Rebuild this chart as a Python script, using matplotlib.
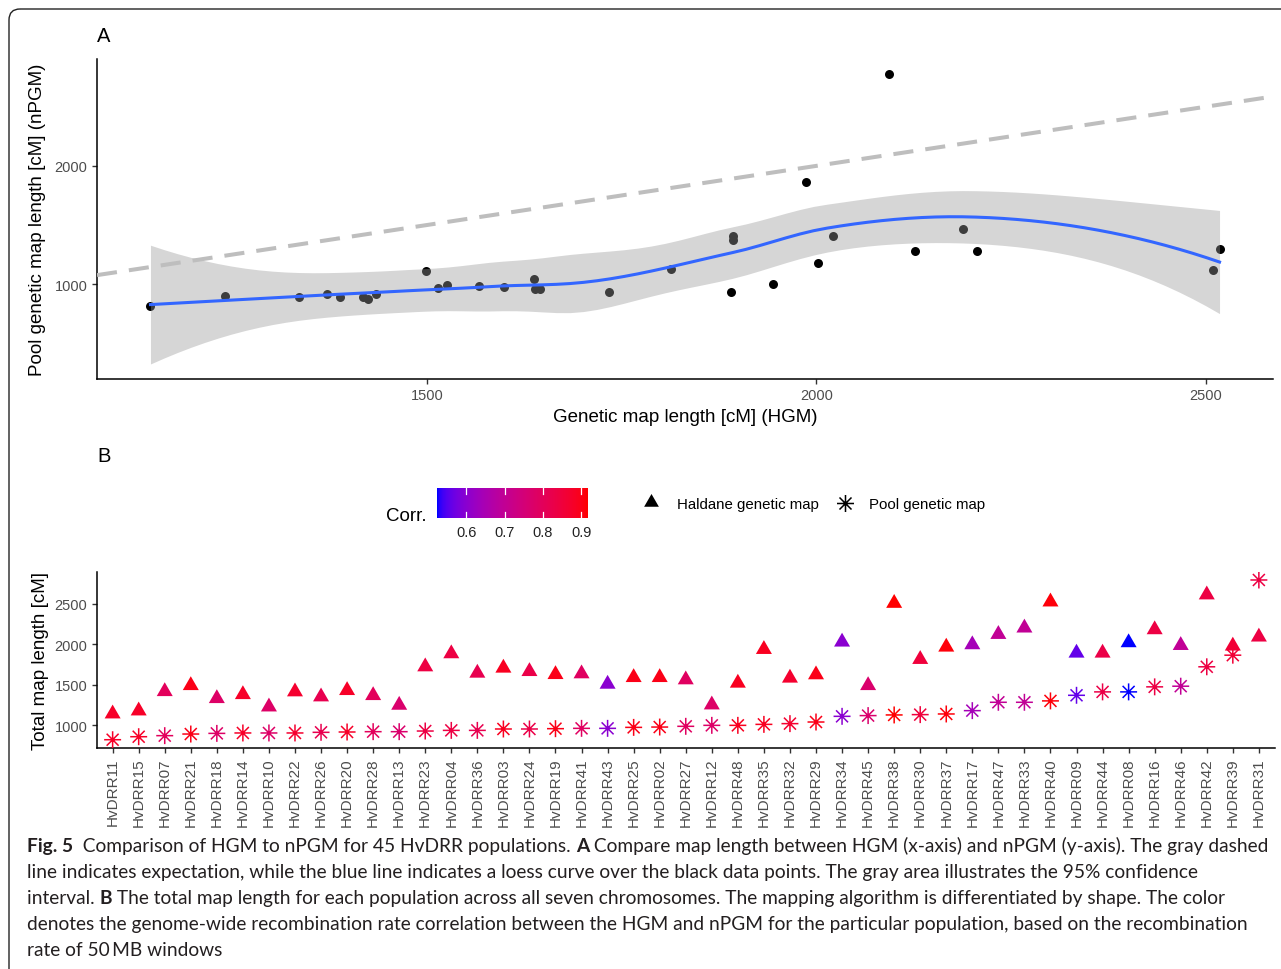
import numpy as np
import matplotlib
matplotlib.use("Agg")
import matplotlib.pyplot as plt
from matplotlib.path import Path
from matplotlib.patches import FancyBboxPatch
from matplotlib.colors import ListedColormap, Normalize

W, H, DPI = 1281, 970, 100

# --- panel A: HGM vs nPGM map length per population (cM) ---
hgm_a = [1145, 1241, 1336, 1372, 1388, 1418, 1424, 1435, 1499, 1514, 1526,
         1567, 1599, 1638, 1639, 1645, 1734, 1814, 1891, 1893, 1893, 1945,
         1987, 2002, 2022, 2093, 2127, 2188, 2206, 2509, 2518]
npgm_a = [818, 897, 888, 913, 891, 894, 874, 913, 1109, 970, 997,
          986, 978, 1042, 958, 961, 933, 1126, 936, 1407, 1370, 1003,
          1863, 1180, 1409, 2781, 1281, 1468, 1283, 1118, 1297]

# --- panel B: total map length per population, ordered by pool map length ---
populations = ["HvDRR11", "HvDRR15", "HvDRR07", "HvDRR21", "HvDRR18", "HvDRR14",
               "HvDRR10", "HvDRR22", "HvDRR26", "HvDRR20", "HvDRR28", "HvDRR13",
               "HvDRR23", "HvDRR04", "HvDRR36", "HvDRR03", "HvDRR24", "HvDRR19",
               "HvDRR41", "HvDRR43", "HvDRR25", "HvDRR02", "HvDRR27", "HvDRR12",
               "HvDRR48", "HvDRR35", "HvDRR32", "HvDRR29", "HvDRR34", "HvDRR45",
               "HvDRR38", "HvDRR30", "HvDRR37", "HvDRR17", "HvDRR47", "HvDRR33",
               "HvDRR40", "HvDRR09", "HvDRR44", "HvDRR08", "HvDRR16", "HvDRR46",
               "HvDRR42", "HvDRR39", "HvDRR31"]
pool_len = [823, 860, 873, 893, 901, 906, 906, 906, 914, 918, 922, 922,
            930, 938, 938, 955, 955, 959, 963, 963, 975, 979, 988, 1000,
            1000, 1012, 1021, 1041, 1111, 1120, 1128, 1132, 1140, 1181, 1284, 1284,
            1301, 1370, 1412, 1412, 1474, 1482, 1721, 1864, 2790]
haldane_len = [1142, 1179, 1417, 1491, 1331, 1380, 1228, 1414, 1352, 1430, 1368, 1249,
               1722, 1883, 1644, 1706, 1664, 1627, 1636, 1508, 1590, 1590, 1562, 1253,
               1521, 1936, 1583, 1624, 2027, 1491, 2504, 1813, 1965, 1994, 2121, 2200,
               2521, 1891, 1891, 2019, 2179, 1985, 2608, 1978, 2089]
corr = [0.88, 0.88, 0.80, 0.90, 0.78, 0.88, 0.78, 0.87, 0.82, 0.88, 0.80, 0.77,
        0.84, 0.84, 0.82, 0.89, 0.83, 0.90, 0.79, 0.60, 0.90, 0.90, 0.79, 0.78,
        0.89, 0.89, 0.87, 0.90, 0.60, 0.77, 0.917, 0.85, 0.91, 0.64, 0.70, 0.70,
        0.91, 0.56, 0.83, 0.524, 0.84, 0.70, 0.84, 0.86, 0.84]
corr_ticks = [0.6, 0.7, 0.8, 0.9]

plt.rcParams['font.family'] = ['Liberation Sans', 'DejaVu Sans']
TICK_GREY = '#4D4D4D'


def local_rows(x, x0, q):
    """Operator rows (value, slope) of a tricube-weighted local quadratic fit at x0."""
    n = len(x)
    d = np.abs(x - x0)
    h = np.sort(d)[q - 1]
    u = np.clip(d / h, 0, 1)
    w = (1 - u ** 3) ** 3
    dx = (x - x0) / 1000.0
    X = np.column_stack([np.ones(n), dx, dx ** 2])
    XtW = X.T * w
    B = np.linalg.solve(XtW @ X, XtW)
    return B[0], B[1] / 1000.0


def loess(x, y, xs, span=0.75, cell=0.2):
    """loess with kd-tree vertices and cubic Hermite interpolation between them."""
    x = np.asarray(x, float)
    y = np.asarray(y, float)
    n = len(x)
    q = int(np.floor(n * span))
    fc = int(np.floor(n * span * cell))

    pad = 0.005 * (x.max() - x.min())
    verts = [x.min() - pad, x.max() + pad]

    def split(p):
        if len(p) <= fc:
            return
        m = (len(p) + 1) // 2
        verts.append((p[m - 1] + p[m]) / 2 if m < len(p) else p[m - 1])
        split(p[:m])
        split(p[m:])

    split(np.sort(x))
    verts = np.array(sorted(verts))
    rows = [local_rows(x, v, q) for v in verts]

    def operator(pts):
        out = []
        for p in pts:
            k = min(max(np.searchsorted(verts, p) - 1, 0), len(verts) - 2)
            a, b = verts[k], verts[k + 1]
            hh = b - a
            t = (p - a) / hh
            h00 = 2 * t ** 3 - 3 * t ** 2 + 1
            h10 = t ** 3 - 2 * t ** 2 + t
            h01 = -2 * t ** 3 + 3 * t ** 2
            h11 = t ** 3 - t ** 2
            out.append(h00 * rows[k][0] + h10 * hh * rows[k][1]
                       + h01 * rows[k + 1][0] + h11 * hh * rows[k + 1][1])
        return np.array(out)

    L = operator(x)
    Ls = operator(xs)
    R = np.eye(n) - L
    RtR = R.T @ R
    d1 = np.trace(RtR)
    d2 = np.trace(RtR @ RtR)
    sigma = np.sqrt(np.sum((R @ y) ** 2) / d1)
    se = sigma * np.sqrt(np.sum(Ls ** 2, axis=1))
    return Ls @ y, se, d1 ** 2 / d2


def t_quantile(df, z=1.959964):
    g1 = (z ** 3 + z) / 4
    g2 = (5 * z ** 5 + 16 * z ** 3 + 3 * z) / 96
    g3 = (3 * z ** 7 + 19 * z ** 5 + 17 * z ** 3 - 15 * z) / 384
    return z + g1 / df + g2 / df ** 2 + g3 / df ** 3


def srgb_to_lab(rgb):
    rgb = np.asarray(rgb, float)
    lin = np.where(rgb <= 0.04045, rgb / 12.92, ((rgb + 0.055) / 1.055) ** 2.4)
    M = np.array([[0.4124, 0.3576, 0.1805],
                  [0.2126, 0.7152, 0.0722],
                  [0.0193, 0.1192, 0.9505]])
    xyz = M @ lin / np.array([0.95047, 1.0, 1.08883])
    f = np.where(xyz > 0.008856, np.cbrt(xyz), 7.787 * xyz + 16 / 116)
    return np.array([116 * f[1] - 16, 500 * (f[0] - f[1]), 200 * (f[1] - f[2])])


def lab_to_srgb(lab):
    L, a, b = lab
    fy = (L + 16) / 116
    fx = fy + a / 500
    fz = fy - b / 200
    f = np.array([fx, fy, fz])
    xyz = np.where(f ** 3 > 0.008856, f ** 3, (f - 16 / 116) / 7.787)
    xyz = xyz * np.array([0.95047, 1.0, 1.08883])
    Minv = np.array([[3.2406, -1.5372, -0.4986],
                     [-0.9689, 1.8758, 0.0415],
                     [0.0557, -0.2040, 1.0570]])
    lin = np.clip(Minv @ xyz, 0, 1)
    rgb = np.where(lin <= 0.0031308, 12.92 * lin, 1.055 * lin ** (1 / 2.4) - 0.055)
    return np.clip(rgb, 0, 1)


# blue -> red gradient interpolated in Lab space
lab_lo = srgb_to_lab([0, 0, 1])
lab_hi = srgb_to_lab([1, 0, 0])
grad = [lab_to_srgb(lab_lo + (lab_hi - lab_lo) * t) for t in np.linspace(0, 1, 256)]
cmap = ListedColormap(grad)
norm = Normalize(min(corr), max(corr))

fig = plt.figure(figsize=(W / DPI, H / DPI), dpi=DPI)


def add_px_axes(left, top, right, bottom):
    return fig.add_axes([left / W, 1 - bottom / H, (right - left) / W, (bottom - top) / H])


def style_axes(ax):
    for s in ('top', 'right'):
        ax.spines[s].set_visible(False)
    for s in ('left', 'bottom'):
        ax.spines[s].set_linewidth(1.1)
        ax.spines[s].set_color('black')
    ax.tick_params(length=3.5, width=1.0, color='#333333',
                   labelcolor=TICK_GREY, labelsize=10.5)


# ---------------- panel A ----------------
ax_a = add_px_axes(97, 60, 1273, 379.5)
style_axes(ax_a)

xs = np.linspace(min(hgm_a), max(hgm_a), 80)
fit, se, df = loess(hgm_a, npgm_a, xs)
tq = t_quantile(df)
lo, hi = fit - tq * se, fit + tq * se

ax_a.scatter(hgm_a, npgm_a, s=42, color='black', linewidths=0, zorder=2)
ax_a.fill_between(xs, lo, hi, color='#999999', alpha=0.4, linewidth=0, zorder=3)
ax_a.plot(xs, fit, color='#3366FF', lw=2.2, zorder=4)
ax_a.axline((1000, 1000), slope=1, color='#BEBEBE', lw=2.9,
            linestyle=(0, (5, 3)), zorder=5)

xr = max(hgm_a) - min(hgm_a)
ax_a.set_xlim(min(hgm_a) - 0.05 * xr, max(hgm_a) + 0.05 * xr)
ymin = min(min(npgm_a), lo.min())
ymax = max(max(npgm_a), hi.max())
yr = ymax - ymin
ax_a.set_ylim(ymin - 0.05 * yr, ymax + 0.05 * yr)
ax_a.set_xticks([1500, 2000, 2500])
ax_a.set_yticks([1000, 2000])
ax_a.set_xlabel('Genetic map length [cM] (HGM)', fontsize=13.5, labelpad=4)
ax_a.set_ylabel('Pool genetic map length [cM] (nPGM)', fontsize=13.5, labelpad=6)

# ---------------- panel B ----------------
ax_b = add_px_axes(97, 573, 1274.5, 748.7)
style_axes(ax_b)

# filled triangle centred on its centroid
tri = Path([(0, 1.5551), (1.3468, -0.7776), (-1.3468, -0.7776), (0, 1.5551)],
           [Path.MOVETO, Path.LINETO, Path.LINETO, Path.CLOSEPOLY])
# eight-armed asterisk
ang = np.deg2rad([0, 45, 90, 135])
verts, codes = [], []
for a in ang:
    verts += [(np.cos(a), np.sin(a)), (-np.cos(a), -np.sin(a))]
    codes += [Path.MOVETO, Path.LINETO]
ast = Path(verts, codes)

xpos = np.arange(len(populations))
ax_b.scatter(xpos, haldane_len, c=corr, cmap=cmap, norm=norm, marker=tri,
             s=177, linewidths=0, zorder=2)
ax_b.scatter(xpos, pool_len, c=corr, cmap=cmap, norm=norm, marker=ast,
             s=149, linewidths=1.1, edgecolors='face', zorder=3)

ax_b.set_xlim(-0.6, len(populations) - 0.4)
allv = pool_len + haldane_len
br = max(allv) - min(allv)
ax_b.set_ylim(min(allv) - 0.05 * br, max(allv) + 0.05 * br)
ax_b.set_yticks([1000, 1500, 2000, 2500])
ax_b.set_xticks(xpos)
ax_b.set_xticklabels(populations, rotation=90)
ax_b.tick_params(axis='x', labelsize=11)
ax_b.set_ylabel('Total map length [cM]', fontsize=13.5, labelpad=4)

# colour bar legend
ax_cb = add_px_axes(437, 489, 588, 519)
cmin, cmax = norm.vmin, norm.vmax
ax_cb.imshow(np.linspace(cmin, cmax, 300)[None, :], cmap=cmap, norm=norm,
             aspect='auto', extent=(cmin, cmax, 0, 1))
for t in corr_ticks:
    ax_cb.plot([t, t], [0, 0.2], color='white', lw=0.9)
    ax_cb.plot([t, t], [0.8, 1], color='white', lw=0.9)
ax_cb.set_xlim(cmin, cmax)
ax_cb.set_ylim(0, 1)
ax_cb.set_xticks(corr_ticks)
ax_cb.set_xticklabels([f'{t:.1f}' for t in corr_ticks])
ax_cb.tick_params(axis='x', length=0, pad=5, labelsize=10.5, labelcolor='#222222')
ax_cb.set_yticks([])
for s in ax_cb.spines.values():
    s.set_visible(False)

# ---------------- overlay in pixel units ----------------
ov = fig.add_axes([0, 0, 1, 1])
ov.set_xlim(0, W)
ov.set_ylim(H, 0)
ov.axis('off')

ov.add_patch(FancyBboxPatch((9, 10), 1320, 1000,
                            boxstyle='round,pad=0,rounding_size=11',
                            fill=False, edgecolor='#222222', lw=1.0))

ov.text(104, 37, 'A', fontsize=14.5, ha='center', va='center')
ov.text(104, 457, 'B', fontsize=14.5, ha='center', va='center')
ov.text(427, 517, 'Corr.', fontsize=13.5, ha='right', va='center')

ov.scatter([651], [503], marker=tri, s=150, color='black', linewidths=0)
ov.text(677, 505, 'Haldane genetic map', fontsize=10.8, va='center')
ov.scatter([845], [504], marker=ast, s=150, color='black', linewidths=1.1)
ov.text(869, 505, 'Pool genetic map', fontsize=10.8, va='center')

# figure caption with inline bold runs
caption_lines = [
    [("Fig. 5", True), ("  Comparison of HGM to nPGM for 45 HvDRR populations. ", False),
     ("A", True), (" Compare map length between HGM (x-axis) and nPGM (y-axis). The gray dashed", False)],
    [("line indicates expectation, while the blue line indicates a loess curve over the "
      "black data points. The gray area illustrates the 95% confidence", False)],
    [("interval. ", False), ("B", True),
     (" The total map length for each population across all seven chromosomes. "
      "The mapping algorithm is differentiated by shape. The color", False)],
    [("denotes the genome-wide recombination rate correlation between the HGM and nPGM "
      "for the particular population, based on the recombination", False)],
    [("rate of 50\u2009MB windows", False)],
]
cap_family = ['Lato', 'DejaVu Sans']
renderer = fig.canvas.get_renderer()


def run_width(s, size, bold):
    kw = dict(fontsize=size, family=cap_family, fontweight='bold' if bold else 'normal')
    t1 = ov.text(0, 0, '|' + s + '|', **kw)
    t0 = ov.text(0, 0, '||', **kw)
    w = t1.get_window_extent(renderer).width - t0.get_window_extent(renderer).width
    t1.remove()
    t0.remove()
    return w


base = 12.0
w1 = sum(run_width(s, base, b) for s, b in caption_lines[0])
cap_size = base * (1266 - 27) / w1

for i, line in enumerate(caption_lines):
    x = 27
    y = 852 + 26 * i
    for s, b in line:
        ov.text(x, y, s, fontsize=cap_size, family=cap_family,
                fontweight='bold' if b else 'normal', va='baseline',
                color='#231F20')
        x += run_width(s, cap_size, b)

fig.savefig('out.png', dpi=DPI)
